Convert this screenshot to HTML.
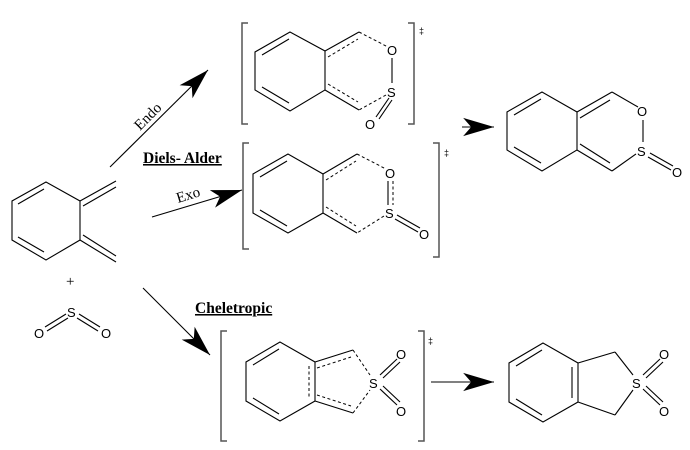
<!DOCTYPE html>
<html><head><meta charset="utf-8"><style>
html,body{margin:0;padding:0;background:#fff;}
svg{display:block;}
.b{stroke:#000;stroke-width:1.1;fill:none;}
.d{stroke:#000;stroke-width:1;fill:none;stroke-dasharray:3,2.5;}
.k{stroke:#555;stroke-width:1.5;fill:none;}
.t{font-family:"Liberation Sans",sans-serif;font-size:13px;fill:#000;}
.s{font-family:"Liberation Serif",serif;font-size:15px;fill:#000;}
.h{font-family:"Liberation Serif",serif;font-size:15.5px;font-weight:bold;fill:#000;text-decoration:underline;}
</style></head><body>
<svg width="690" height="450" viewBox="0 0 690 450" xmlns="http://www.w3.org/2000/svg">
<defs>
<marker id="ah" markerUnits="userSpaceOnUse" markerWidth="40" markerHeight="40" refX="0" refY="0" orient="auto" viewBox="-30 -15 35 30">
<path d="M0,0 L-27,-8 L-20,0 L-27,8 Z" fill="#000"/>
</marker>
</defs>

<polygon class="b" points="46,182 12,201 12,240 46,260 80,240 80,201"/>
<line class="b" x1="44" y1="189" x2="18" y2="204"/>
<line class="b" x1="18" y1="237" x2="44" y2="252"/>
<line class="b" x1="80" y1="201" x2="116" y2="181"/>
<line class="b" x1="83" y1="206" x2="116" y2="187"/>
<line class="b" x1="80" y1="240" x2="116" y2="262"/>
<line class="b" x1="83" y1="235" x2="116" y2="256"/>
<text class="t" x="66" y="286" style="font-family:'Liberation Serif',serif;font-size:15px">+</text>
<text class="t" x="67" y="317">S</text>
<text class="t" x="34" y="338">O</text>
<text class="t" x="101" y="338">O</text>
<line class="b" x1="66" y1="314" x2="45" y2="327"/>
<line class="b" x1="68" y1="318" x2="47" y2="331"/>
<line class="b" x1="79" y1="314" x2="100" y2="327"/>
<line class="b" x1="77" y1="318" x2="98" y2="331"/>

<line class="b" x1="110" y1="167" x2="208" y2="70" marker-end="url(#ah)"/>
<text class="s" transform="translate(140,131) rotate(-45)">Endo</text>
<text class="h" x="143" y="163">Diels- Alder</text>
<line class="b" x1="152" y1="217" x2="242" y2="190" marker-end="url(#ah)"/>
<text class="s" transform="translate(178,203) rotate(-17)">Exo</text>
<line class="b" x1="143" y1="288" x2="210" y2="355" marker-end="url(#ah)"/>
<text class="h" x="195" y="313">Cheletropic</text>
<line class="b" x1="462" y1="127" x2="494" y2="127" marker-end="url(#ah)"/>
<line class="b" x1="431" y1="382" x2="494" y2="382" marker-end="url(#ah)"/>

<path class="k" d="M248,23 H242 V124 H248"/>
<path class="k" d="M408,23 H414 V124 H408"/>
<text class="t" x="419" y="34" style="font-size:9px">‡</text>
<polygon class="b" points="290,32 255,52 255,90 290,111 325,90 325,51"/>
<line class="b" x1="289" y1="39" x2="262" y2="55"/>
<line class="b" x1="262" y1="87" x2="289" y2="103"/>
<line class="b" x1="325" y1="51" x2="359" y2="32"/>
<line class="d" x1="328" y1="57" x2="358" y2="39"/>
<line class="b" x1="325" y1="90" x2="359" y2="110"/>
<line class="d" x1="328" y1="84" x2="358" y2="102"/>
<line class="d" x1="359" y1="32" x2="388" y2="47"/>
<text class="t" x="387" y="55">O</text>
<line class="b" x1="392" y1="58" x2="392" y2="83"/>
<text class="t" x="387" y="97">S</text>
<line class="d" x1="386" y1="95" x2="359" y2="110"/>
<line class="b" x1="389" y1="98" x2="376" y2="117"/>
<line class="b" x1="392" y1="100" x2="379" y2="119"/>
<text class="t" x="365" y="129">O</text>

<path class="k" d="M249,143 H243 V249 H249"/>
<path class="k" d="M433,143 H439 V257 H433"/>
<text class="t" x="444" y="156" style="font-size:9px">‡</text>
<polygon class="b" points="288,154 253,174 253,213 288,233 323,213 323,174"/>
<line class="b" x1="287" y1="161" x2="260" y2="177"/>
<line class="b" x1="260" y1="210" x2="287" y2="226"/>
<line class="b" x1="323" y1="174" x2="357" y2="154"/>
<line class="d" x1="326" y1="180" x2="356" y2="161"/>
<line class="b" x1="323" y1="213" x2="357" y2="233"/>
<line class="d" x1="326" y1="207" x2="356" y2="226"/>
<line class="d" x1="357" y1="154" x2="386" y2="169"/>
<text class="t" x="385" y="178">O</text>
<line class="b" x1="388" y1="181" x2="388" y2="205"/>
<line class="d" x1="393" y1="181" x2="393" y2="205"/>
<text class="t" x="385" y="218">S</text>
<line class="d" x1="384" y1="216" x2="357" y2="233"/>
<line class="b" x1="397" y1="215" x2="420" y2="228"/>
<line class="b" x1="395" y1="219" x2="418" y2="232"/>
<text class="t" x="419" y="239">O</text>

<polygon class="b" points="542,92 507,112 507,150 542,171 577,150 577,112"/>
<line class="b" x1="541" y1="99" x2="514" y2="115"/>
<line class="b" x1="514" y1="147" x2="541" y2="163"/>
<line class="b" x1="577" y1="112" x2="612" y2="92"/>
<line class="b" x1="580" y1="118" x2="610" y2="100"/>
<line class="b" x1="577" y1="150" x2="612" y2="171"/>
<line class="b" x1="580" y1="144" x2="610" y2="163"/>
<line class="b" x1="612" y1="92" x2="638" y2="107"/>
<text class="t" x="637" y="116">O</text>
<line class="b" x1="643" y1="120" x2="643" y2="142"/>
<text class="t" x="637" y="156">S</text>
<line class="b" x1="636" y1="154" x2="612" y2="171"/>
<line class="b" x1="650" y1="153" x2="673" y2="166"/>
<line class="b" x1="648" y1="157" x2="671" y2="170"/>
<text class="t" x="672" y="177">O</text>

<path class="k" d="M227,331 H221 V441 H227"/>
<path class="k" d="M418,331 H424 V441 H418"/>
<text class="t" x="428" y="344" style="font-size:9px">‡</text>
<polygon class="b" points="280,342 246,362 246,401 280,421 315,401 315,362"/>
<line class="b" x1="279" y1="349" x2="253" y2="365"/>
<line class="b" x1="253" y1="398" x2="279" y2="414"/>
<line class="d" x1="309" y1="366" x2="309" y2="397"/>
<line class="b" x1="315" y1="362" x2="353" y2="350"/>
<line class="d" x1="317" y1="368" x2="351" y2="357"/>
<line class="b" x1="315" y1="401" x2="353" y2="413"/>
<line class="d" x1="317" y1="395" x2="351" y2="406"/>
<line class="d" x1="353" y1="350" x2="370" y2="375"/>
<line class="d" x1="353" y1="413" x2="370" y2="390"/>
<text class="t" x="369" y="388">S</text>
<line class="b" x1="380" y1="375" x2="397" y2="359"/>
<line class="b" x1="383" y1="378" x2="400" y2="362"/>
<line class="b" x1="380" y1="389" x2="397" y2="405"/>
<line class="b" x1="383" y1="386" x2="400" y2="402"/>
<text class="t" x="396" y="359">O</text>
<text class="t" x="396" y="416">O</text>

<polygon class="b" points="543,343 509,363 509,402 543,422 578,402 578,363"/>
<line class="b" x1="542" y1="350" x2="516" y2="366"/>
<line class="b" x1="516" y1="399" x2="542" y2="415"/>
<line class="b" x1="572" y1="367" x2="572" y2="398"/>
<line class="b" x1="578" y1="363" x2="615" y2="352"/>
<line class="b" x1="578" y1="402" x2="615" y2="415"/>
<line class="b" x1="615" y1="352" x2="633" y2="375"/>
<line class="b" x1="615" y1="415" x2="633" y2="390"/>
<text class="t" x="632" y="388">S</text>
<line class="b" x1="643" y1="375" x2="660" y2="359"/>
<line class="b" x1="646" y1="378" x2="663" y2="362"/>
<line class="b" x1="643" y1="389" x2="660" y2="405"/>
<line class="b" x1="646" y1="386" x2="663" y2="402"/>
<text class="t" x="659" y="359">O</text>
<text class="t" x="659" y="416">O</text>
</svg>
</body></html>
